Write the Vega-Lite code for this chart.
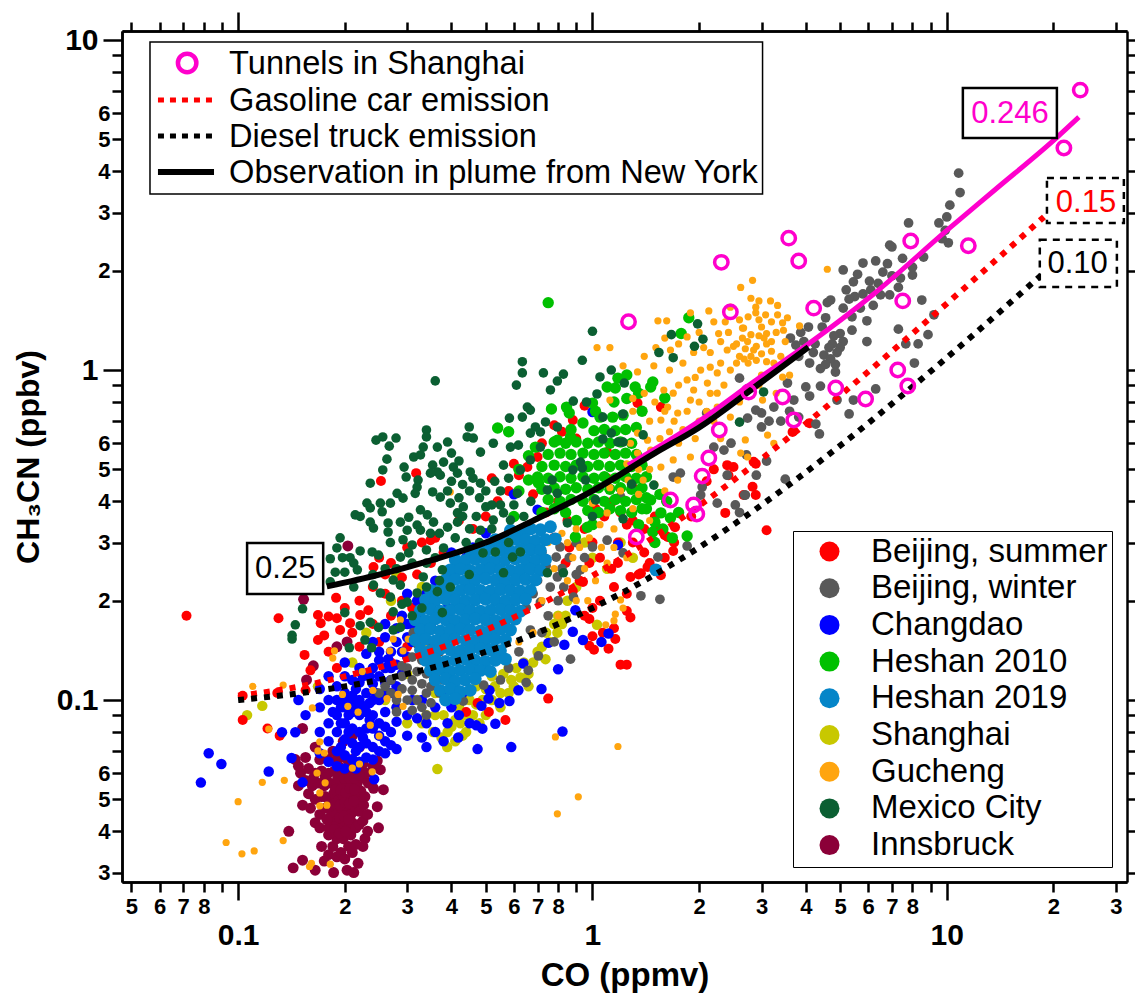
{"$schema":"https://vega.github.io/schema/vega-lite/v6.json","width":1005,"height":851,"autosize":{"type":"none"},"padding":{"left":122,"top":31,"right":8,"bottom":111},"background":"white",
"config":{"view":{"stroke":null},"font":"Liberation Sans","axis":{"grid":false,"domainColor":"black","domainWidth":2.5,"tickColor":"black","tickWidth":2.5,"labelColor":"black","titleColor":"black","labelOverlap":false,"labelBound":false,"labelFlush":false,"labelFontWeight":"bold","titleFontWeight":"bold"}},
"datasets":{
"frame":[{"x":1,"y":1}],
"innsbruck":[{"x":0.143,"y":0.031},{"x":0.152,"y":0.0327},{"x":0.165,"y":0.0305},{"x":0.186,"y":0.03},{"x":0.203,"y":0.0305},{"x":0.212,"y":0.03},{"x":0.218,"y":0.032},{"x":0.139,"y":0.04},{"x":0.249,"y":0.041},{"x":0.247,"y":0.0475},{"x":0.257,"y":0.0535},{"x":0.241,"y":0.054},{"x":0.252,"y":0.0615},{"x":0.247,"y":0.0655},{"x":0.19,"y":0.145},{"x":0.163,"y":0.127},{"x":0.156,"y":0.115},{"x":0.152,"y":0.082},{"x":0.145,"y":0.066},{"x":0.203,"y":0.15},{"x":0.204,"y":0.293},{"x":0.153,"y":0.202},{"x":0.175,"y":0.0325},{"x":0.18,"y":0.034},{"x":0.172,"y":0.036},{"x":0.185,"y":0.036},{"x":0.19,"y":0.0335},{"x":0.195,"y":0.0345},{"x":0.2,"y":0.033},{"x":0.205,"y":0.036},{"x":0.21,"y":0.0345},{"x":0.215,"y":0.0365},{"x":0.19,"y":0.038},{"x":0.198,"y":0.038},{"x":0.18,"y":0.039},{"x":0.208,"y":0.039},{"x":0.225,"y":0.036},{"x":0.228,"y":0.038},{"x":0.232,"y":0.04},{"x":0.165,"y":0.0425},{"x":0.17,"y":0.041},{"x":0.18,"y":0.041},{"x":0.185,"y":0.043},{"x":0.19,"y":0.042},{"x":0.196,"y":0.041},{"x":0.2,"y":0.043},{"x":0.205,"y":0.041},{"x":0.21,"y":0.0425},{"x":0.215,"y":0.041},{"x":0.22,"y":0.042},{"x":0.225,"y":0.043},{"x":0.17,"y":0.045},{"x":0.176,"y":0.047},{"x":0.183,"y":0.046},{"x":0.19,"y":0.046},{"x":0.196,"y":0.045},{"x":0.202,"y":0.047},{"x":0.208,"y":0.045},{"x":0.214,"y":0.047},{"x":0.22,"y":0.046},{"x":0.226,"y":0.048},{"x":0.232,"y":0.045},{"x":0.16,"y":0.047},{"x":0.152,"y":0.048},{"x":0.158,"y":0.052},{"x":0.165,"y":0.05},{"x":0.172,"y":0.051},{"x":0.18,"y":0.05},{"x":0.186,"y":0.052},{"x":0.192,"y":0.05},{"x":0.198,"y":0.051},{"x":0.204,"y":0.05},{"x":0.21,"y":0.052},{"x":0.216,"y":0.05},{"x":0.222,"y":0.053},{"x":0.228,"y":0.051},{"x":0.233,"y":0.056},{"x":0.148,"y":0.055},{"x":0.155,"y":0.057},{"x":0.162,"y":0.055},{"x":0.168,"y":0.056},{"x":0.175,"y":0.055},{"x":0.182,"y":0.056},{"x":0.19,"y":0.055},{"x":0.196,"y":0.056},{"x":0.203,"y":0.055},{"x":0.21,"y":0.056},{"x":0.217,"y":0.056},{"x":0.224,"y":0.058},{"x":0.23,"y":0.06},{"x":0.15,"y":0.06},{"x":0.158,"y":0.062},{"x":0.165,"y":0.06},{"x":0.172,"y":0.061},{"x":0.18,"y":0.06},{"x":0.187,"y":0.061},{"x":0.195,"y":0.06},{"x":0.202,"y":0.062},{"x":0.21,"y":0.06},{"x":0.218,"y":0.062},{"x":0.225,"y":0.064},{"x":0.17,"y":0.066},{"x":0.18,"y":0.066},{"x":0.19,"y":0.066},{"x":0.2,"y":0.067},{"x":0.21,"y":0.066},{"x":0.148,"y":0.063},{"x":0.155,"y":0.067},{"x":0.24,"y":0.063},{"x":0.185,"y":0.07},{"x":0.198,"y":0.075},{"x":0.21,"y":0.078},{"x":0.22,"y":0.072},{"x":0.165,"y":0.072},{"x":0.187,"y":0.0405},{"x":0.193,"y":0.0395},{"x":0.201,"y":0.04},{"x":0.187,"y":0.0445},{"x":0.193,"y":0.044},{"x":0.199,"y":0.0445},{"x":0.205,"y":0.0435},{"x":0.187,"y":0.0485},{"x":0.194,"y":0.048},{"x":0.2,"y":0.049},{"x":0.206,"y":0.0485},{"x":0.212,"y":0.0495},{"x":0.188,"y":0.0535},{"x":0.195,"y":0.0535},{"x":0.201,"y":0.0525},{"x":0.207,"y":0.054},{"x":0.213,"y":0.0535},{"x":0.191,"y":0.058},{"x":0.199,"y":0.058},{"x":0.206,"y":0.058},{"x":0.213,"y":0.058},{"x":0.22,"y":0.059},{"x":0.192,"y":0.063},{"x":0.205,"y":0.065},{"x":0.176,"y":0.051},{"x":0.178,"y":0.0435},{"x":0.176,"y":0.058},{"x":0.163,"y":0.058}],
"shanghai":[{"x":0.365,"y":0.0618},{"x":0.389,"y":0.072},{"x":0.375,"y":0.077},{"x":0.355,"y":0.08},{"x":0.41,"y":0.075},{"x":0.424,"y":0.085},{"x":0.4,"y":0.083},{"x":0.44,"y":0.08},{"x":0.46,"y":0.09},{"x":0.48,"y":0.085},{"x":0.38,"y":0.09},{"x":0.42,"y":0.095},{"x":0.45,"y":0.1},{"x":0.5,"y":0.09},{"x":0.52,"y":0.1},{"x":0.55,"y":0.095},{"x":0.5,"y":0.108},{"x":0.58,"y":0.105},{"x":0.626,"y":0.117},{"x":0.6,"y":0.11},{"x":0.66,"y":0.12},{"x":0.56,"y":0.12},{"x":0.68,"y":0.13},{"x":0.737,"y":0.133},{"x":0.7,"y":0.14},{"x":0.796,"y":0.16},{"x":0.76,"y":0.15},{"x":0.82,"y":0.17},{"x":0.78,"y":0.17},{"x":0.34,"y":0.09},{"x":0.32,"y":0.1},{"x":0.36,"y":0.105},{"x":0.3,"y":0.12},{"x":0.28,"y":0.095},{"x":0.26,"y":0.1},{"x":0.3,"y":0.085},{"x":0.117,"y":0.096},{"x":0.106,"y":0.09},{"x":0.168,"y":0.11},{"x":1.03,"y":0.169},{"x":0.9,"y":0.22},{"x":1.1,"y":0.25},{"x":1.2,"y":0.3},{"x":1.0,"y":0.27},{"x":1.3,"y":0.27},{"x":0.95,"y":0.3},{"x":0.85,"y":0.2},{"x":0.23,"y":0.16},{"x":0.27,"y":0.2},{"x":0.21,"y":0.13},{"x":0.28,"y":0.24},{"x":0.33,"y":0.22},{"x":0.39,"y":0.08},{"x":0.43,"y":0.078},{"x":0.41,"y":0.087},{"x":0.44,"y":0.09},{"x":0.47,"y":0.097},{"x":0.49,"y":0.1},{"x":0.53,"y":0.11},{"x":0.55,"y":0.105},{"x":0.59,"y":0.115},{"x":0.61,"y":0.125},{"x":0.64,"y":0.13},{"x":0.66,"y":0.11},{"x":0.72,"y":0.145},{"x":0.74,"y":0.16},{"x":0.8,"y":0.18},{"x":0.84,"y":0.18},{"x":0.47,"y":0.11},{"x":0.52,"y":0.118},{"x":0.58,"y":0.125},{"x":0.33,"y":0.085},{"x":0.36,"y":0.09}],
"red":[{"x":0.0715,"y":0.18},{"x":0.253,"y":0.461},{"x":0.318,"y":0.487},{"x":0.189,"y":0.204},{"x":0.13,"y":0.177},{"x":0.241,"y":0.253},{"x":0.168,"y":0.181},{"x":0.171,"y":0.171},{"x":0.18,"y":0.179},{"x":0.19,"y":0.177},{"x":0.221,"y":0.181},{"x":0.233,"y":0.187},{"x":0.168,"y":0.152},{"x":0.175,"y":0.157},{"x":0.154,"y":0.137},{"x":0.16,"y":0.123},{"x":0.103,"y":0.103},{"x":0.103,"y":0.087},{"x":0.121,"y":0.082},{"x":0.131,"y":0.078},{"x":0.129,"y":0.105},{"x":0.155,"y":0.107},{"x":0.194,"y":0.163},{"x":0.207,"y":0.171},{"x":1.2,"y":0.128},{"x":1.25,"y":0.128},{"x":1.11,"y":0.143},{"x":1.01,"y":0.142},{"x":0.98,"y":0.146},{"x":1.0,"y":0.156},{"x":1.15,"y":0.165},{"x":1.16,"y":0.153},{"x":1.07,"y":0.16},{"x":0.98,"y":0.176},{"x":1.28,"y":0.178},{"x":1.25,"y":0.186},{"x":0.75,"y":0.101},{"x":0.568,"y":0.087},{"x":0.51,"y":0.092},{"x":0.44,"y":0.092},{"x":0.474,"y":0.098},{"x":1.69,"y":0.283},{"x":1.6,"y":0.316},{"x":1.71,"y":0.334},{"x":1.28,"y":0.236},{"x":1.37,"y":0.242},{"x":1.43,"y":0.253},{"x":1.56,"y":0.239},{"x":1.18,"y":0.26},{"x":0.94,"y":0.228},{"x":0.88,"y":0.214},{"x":2.89,"y":0.52},{"x":2.83,"y":0.443},{"x":2.89,"y":0.418},{"x":3.67,"y":0.649},{"x":4.1,"y":0.69},{"x":3.1,"y":0.327},{"x":2.37,"y":0.369},{"x":2.67,"y":0.418},{"x":2.4,"y":0.515},{"x":2.5,"y":0.508},{"x":2.85,"y":0.527},{"x":2.42,"y":0.48},{"x":1.63,"y":0.312},{"x":0.88,"y":0.705},{"x":1.34,"y":0.794},{"x":1.56,"y":0.772},{"x":1.1,"y":0.564},{"x":0.655,"y":0.508},{"x":0.7,"y":0.545},{"x":0.349,"y":0.305},{"x":0.25,"y":0.27},{"x":0.27,"y":0.26},{"x":0.3,"y":0.29},{"x":0.33,"y":0.3},{"x":0.36,"y":0.31},{"x":0.22,"y":0.2},{"x":0.24,"y":0.22},{"x":0.26,"y":0.21},{"x":0.29,"y":0.2},{"x":0.32,"y":0.24},{"x":0.35,"y":0.26},{"x":0.38,"y":0.28},{"x":0.24,"y":0.17},{"x":0.27,"y":0.18},{"x":0.3,"y":0.17},{"x":0.31,"y":0.19},{"x":0.42,"y":0.35},{"x":0.46,"y":0.33},{"x":0.5,"y":0.36},{"x":0.54,"y":0.4},{"x":0.58,"y":0.43},{"x":0.52,"y":0.47},{"x":0.62,"y":0.48},{"x":0.68,"y":0.42},{"x":0.74,"y":0.37},{"x":0.8,"y":0.4},{"x":0.85,"y":0.35},{"x":0.78,"y":0.31},{"x":0.86,"y":0.29},{"x":0.95,"y":0.33},{"x":1.02,"y":0.38},{"x":1.08,"y":0.36},{"x":1.14,"y":0.4},{"x":1.2,"y":0.37},{"x":1.25,"y":0.34},{"x":1.3,"y":0.44},{"x":1.1,"y":0.47},{"x":1.0,"y":0.3},{"x":1.05,"y":0.27},{"x":0.98,"y":0.26},{"x":1.13,"y":0.25},{"x":1.18,"y":0.3},{"x":0.92,"y":0.23},{"x":0.84,"y":0.26},{"x":0.82,"y":0.65},{"x":0.9,"y":0.62},{"x":0.95,"y":0.78},{"x":1.3,"y":0.3},{"x":1.4,"y":0.28},{"x":1.5,"y":0.3},{"x":1.6,"y":0.27},{"x":1.55,"y":0.33},{"x":1.7,"y":0.3},{"x":1.45,"y":0.26},{"x":1.35,"y":0.24},{"x":1.25,"y":0.21},{"x":1.15,"y":0.22},{"x":1.05,"y":0.2},{"x":1.0,"y":0.19},{"x":0.95,"y":0.18},{"x":1.4,"y":0.33},{"x":1.3,"y":0.35},{"x":1.5,"y":0.36},{"x":1.9,"y":0.36},{"x":2.1,"y":0.46},{"x":2.2,"y":0.5},{"x":0.2,"y":0.19},{"x":0.21,"y":0.16},{"x":0.25,"y":0.15},{"x":0.22,"y":0.145},{"x":0.19,"y":0.125},{"x":0.18,"y":0.14},{"x":0.27,"y":0.13},{"x":0.3,"y":0.145},{"x":0.33,"y":0.155},{"x":0.35,"y":0.14},{"x":0.26,"y":0.24},{"x":0.29,"y":0.235},{"x":0.6,"y":0.52},{"x":0.72,"y":0.6},{"x":0.78,"y":0.68}],
"blue":[{"x":0.0826,"y":0.069},{"x":0.0897,"y":0.064},{"x":0.0785,"y":0.0562},{"x":0.122,"y":0.0607},{"x":0.133,"y":0.0799},{"x":0.145,"y":0.0799},{"x":0.1415,"y":0.0667},{"x":0.152,"y":0.0563},{"x":0.242,"y":0.0575},{"x":0.148,"y":0.1},{"x":0.155,"y":0.09},{"x":0.59,"y":0.072},{"x":0.474,"y":0.071},{"x":0.418,"y":0.077},{"x":0.823,"y":0.0803},{"x":0.532,"y":0.0847},{"x":0.489,"y":0.0819},{"x":0.47,"y":0.0838},{"x":0.718,"y":0.108},{"x":0.618,"y":0.107},{"x":0.583,"y":0.0993},{"x":0.546,"y":0.098},{"x":0.509,"y":0.101},{"x":0.486,"y":0.096},{"x":0.512,"y":0.107},{"x":0.8,"y":0.124},{"x":0.638,"y":0.129},{"x":0.833,"y":0.147},{"x":0.751,"y":0.149},{"x":0.88,"y":0.161},{"x":0.94,"y":0.152},{"x":1.06,"y":0.15},{"x":1.11,"y":0.159},{"x":0.895,"y":0.187},{"x":1.18,"y":0.295},{"x":0.18,"y":0.075},{"x":0.19,"y":0.07},{"x":0.2,"y":0.068},{"x":0.21,"y":0.066},{"x":0.22,"y":0.065},{"x":0.23,"y":0.067},{"x":0.24,"y":0.066},{"x":0.18,"y":0.065},{"x":0.19,"y":0.063},{"x":0.2,"y":0.062},{"x":0.215,"y":0.062},{"x":0.17,"y":0.069},{"x":0.17,"y":0.08},{"x":0.18,"y":0.085},{"x":0.19,"y":0.08},{"x":0.2,"y":0.076},{"x":0.21,"y":0.074},{"x":0.22,"y":0.072},{"x":0.23,"y":0.074},{"x":0.24,"y":0.072},{"x":0.25,"y":0.07},{"x":0.26,"y":0.069},{"x":0.26,"y":0.075},{"x":0.27,"y":0.073},{"x":0.28,"y":0.071},{"x":0.25,"y":0.078},{"x":0.19,"y":0.09},{"x":0.2,"y":0.085},{"x":0.21,"y":0.082},{"x":0.22,"y":0.08},{"x":0.23,"y":0.082},{"x":0.24,"y":0.082},{"x":0.25,"y":0.085},{"x":0.26,"y":0.083},{"x":0.27,"y":0.08},{"x":0.28,"y":0.086},{"x":0.17,"y":0.095},{"x":0.18,"y":0.1},{"x":0.19,"y":0.1},{"x":0.2,"y":0.095},{"x":0.21,"y":0.092},{"x":0.22,"y":0.09},{"x":0.23,"y":0.092},{"x":0.24,"y":0.09},{"x":0.26,"y":0.092},{"x":0.28,"y":0.095},{"x":0.17,"y":0.108},{"x":0.19,"y":0.11},{"x":0.2,"y":0.105},{"x":0.21,"y":0.103},{"x":0.22,"y":0.1},{"x":0.23,"y":0.105},{"x":0.24,"y":0.1},{"x":0.25,"y":0.1},{"x":0.27,"y":0.105},{"x":0.18,"y":0.118},{"x":0.2,"y":0.118},{"x":0.21,"y":0.115},{"x":0.22,"y":0.113},{"x":0.24,"y":0.112},{"x":0.25,"y":0.118},{"x":0.27,"y":0.115},{"x":0.22,"y":0.125},{"x":0.24,"y":0.125},{"x":0.26,"y":0.125},{"x":0.28,"y":0.128},{"x":0.2,"y":0.13},{"x":0.23,"y":0.138},{"x":0.25,"y":0.14},{"x":0.27,"y":0.14},{"x":0.29,"y":0.14},{"x":0.24,"y":0.15},{"x":0.26,"y":0.155},{"x":0.28,"y":0.15},{"x":0.3,"y":0.155},{"x":0.3,"y":0.17},{"x":0.32,"y":0.18},{"x":0.33,"y":0.19},{"x":0.35,"y":0.2},{"x":0.38,"y":0.22},{"x":0.35,"y":0.17},{"x":0.39,"y":0.19},{"x":0.41,"y":0.25},{"x":0.44,"y":0.27},{"x":0.46,"y":0.29},{"x":0.4,"y":0.28},{"x":0.5,"y":0.32},{"x":0.3,"y":0.09},{"x":0.32,"y":0.088},{"x":0.34,"y":0.085},{"x":0.36,"y":0.08},{"x":0.38,"y":0.075},{"x":0.31,"y":0.1},{"x":0.33,"y":0.1},{"x":0.36,"y":0.095},{"x":0.39,"y":0.085},{"x":0.4,"y":0.095},{"x":0.42,"y":0.09},{"x":0.45,"y":0.085},{"x":0.38,"y":0.105},{"x":0.43,"y":0.105},{"x":0.3,"y":0.078},{"x":0.33,"y":0.077},{"x":0.34,"y":0.072},{"x":1,"y":0.746},{"x":0.7,"y":0.377},{"x":0.6,"y":0.42},{"x":0.195,"y":0.072},{"x":0.205,"y":0.08},{"x":0.195,"y":0.085},{"x":0.205,"y":0.09},{"x":0.215,"y":0.097},{"x":0.205,"y":0.099},{"x":0.195,"y":0.095},{"x":0.185,"y":0.092},{"x":0.215,"y":0.07},{"x":0.225,"y":0.077},{"x":0.235,"y":0.087},{"x":0.225,"y":0.096},{"x":0.235,"y":0.098},{"x":0.215,"y":0.108},{"x":0.225,"y":0.118},{"x":0.235,"y":0.118},{"x":0.245,"y":0.105},{"x":0.26,"y":0.105},{"x":0.26,"y":0.113},{"x":0.28,"y":0.11},{"x":0.29,"y":0.12},{"x":0.27,"y":0.125},{"x":0.25,"y":0.132},{"x":0.265,"y":0.133},{"x":0.3,"y":0.135},{"x":0.31,"y":0.15},{"x":0.28,"y":0.165},{"x":0.26,"y":0.17},{"x":0.29,"y":0.18},{"x":0.31,"y":0.17},{"x":0.32,"y":0.2},{"x":0.34,"y":0.21},{"x":0.36,"y":0.23},{"x":0.3,"y":0.21},{"x":0.33,"y":0.165},{"x":0.2,"y":0.1}],
"grey":[{"x":10.2,"y":3.16},{"x":10,"y":2.91},{"x":10.8,"y":3.95},{"x":10.9,"y":3.45},{"x":9.5,"y":2.79},{"x":9.9,"y":2.65},{"x":10.1,"y":2.43},{"x":7.8,"y":2.79},{"x":7,"y":2.36},{"x":6.9,"y":2.39},{"x":7.5,"y":2.18},{"x":8.6,"y":2.2},{"x":6.3,"y":2.14},{"x":5.8,"y":2.11},{"x":5.1,"y":2.01},{"x":6.6,"y":1.98},{"x":6.05,"y":1.86},{"x":5.45,"y":1.85},{"x":6.4,"y":1.83},{"x":7,"y":1.93},{"x":7.4,"y":1.9},{"x":8,"y":1.94},{"x":7.3,"y":1.78},{"x":6.9,"y":1.69},{"x":6.5,"y":1.69},{"x":8.5,"y":1.63},{"x":5.5,"y":1.67},{"x":5.3,"y":1.64},{"x":4.7,"y":1.63},{"x":4.6,"y":1.6},{"x":6.2,"y":1.57},{"x":5.7,"y":1.54},{"x":5.1,"y":1.54},{"x":5.4,"y":1.45},{"x":4.55,"y":1.44},{"x":5.95,"y":1.41},{"x":4.45,"y":1.35},{"x":4.07,"y":1.35},{"x":3.87,"y":1.3},{"x":5.4,"y":1.32},{"x":5,"y":1.29},{"x":7.3,"y":1.33},{"x":8.85,"y":1.28},{"x":7.66,"y":1.2},{"x":8.3,"y":1.2},{"x":5.95,"y":1.22},{"x":5.1,"y":1.22},{"x":3.62,"y":1.25},{"x":3.75,"y":1.19},{"x":5,"y":1.17},{"x":4.9,"y":1.13},{"x":4.5,"y":1.11},{"x":4.2,"y":1.13},{"x":3.82,"y":1.1},{"x":4.1,"y":1.05},{"x":4.85,"y":1.04},{"x":4.4,"y":1.01},{"x":8.1,"y":1.05},{"x":4.85,"y":0.986},{"x":3.55,"y":0.913},{"x":4,"y":0.889},{"x":4.4,"y":0.894},{"x":4.1,"y":0.834},{"x":6.3,"y":0.876},{"x":5.45,"y":0.811},{"x":4.9,"y":0.811},{"x":5.3,"y":0.736},{"x":3.7,"y":0.811},{"x":3.25,"y":0.772},{"x":3,"y":0.741},{"x":2.89,"y":0.756},{"x":2.74,"y":0.715},{"x":3,"y":0.672},{"x":4.27,"y":0.686},{"x":4.37,"y":0.64},{"x":3.82,"y":0.72},{"x":3.5,"y":0.467},{"x":2.7,"y":0.418},{"x":9.2,"y":1.47},{"x":2.6,"y":0.945},{"x":2.2,"y":0.584},{"x":2.35,"y":0.572},{"x":2.46,"y":0.6},{"x":2.72,"y":0.553},{"x":2.04,"y":0.442},{"x":2.02,"y":0.418},{"x":2.25,"y":0.395},{"x":2.69,"y":0.418},{"x":2.53,"y":0.39},{"x":2.6,"y":0.37},{"x":2.1,"y":0.741},{"x":1.77,"y":0.487},{"x":1.69,"y":0.474},{"x":1.2,"y":0.413},{"x":1.1,"y":0.305},{"x":0.9,"y":0.3},{"x":0.81,"y":0.291},{"x":0.79,"y":0.271},{"x":0.925,"y":0.248},{"x":1,"y":0.291},{"x":1.22,"y":0.279},{"x":1.53,"y":0.271},{"x":1.85,"y":0.293},{"x":1.37,"y":0.207},{"x":1.55,"y":0.202},{"x":0.867,"y":0.133},{"x":0.704,"y":0.136},{"x":0.659,"y":0.123},{"x":0.65,"y":0.113},{"x":0.493,"y":0.111},{"x":0.432,"y":0.0992},{"x":0.796,"y":0.236},{"x":0.884,"y":0.205},{"x":0.713,"y":0.198},{"x":0.668,"y":0.163},{"x":0.8,"y":0.2},{"x":0.76,"y":0.22},{"x":0.75,"y":0.18},{"x":0.82,"y":0.25},{"x":0.86,"y":0.27},{"x":0.74,"y":0.255},{"x":0.7,"y":0.23},{"x":0.72,"y":0.28},{"x":0.78,"y":0.31},{"x":0.312,"y":0.16},{"x":0.372,"y":0.148},{"x":0.25,"y":0.105},{"x":0.26,"y":0.11},{"x":0.27,"y":0.105},{"x":0.28,"y":0.1},{"x":0.29,"y":0.108},{"x":0.3,"y":0.1},{"x":0.31,"y":0.107},{"x":0.32,"y":0.1},{"x":0.33,"y":0.095},{"x":0.34,"y":0.105},{"x":0.35,"y":0.098},{"x":0.27,"y":0.115},{"x":0.29,"y":0.118},{"x":0.31,"y":0.115},{"x":0.33,"y":0.112},{"x":0.35,"y":0.11},{"x":0.37,"y":0.105},{"x":0.3,"y":0.125},{"x":0.32,"y":0.122},{"x":0.34,"y":0.12},{"x":0.36,"y":0.118},{"x":0.38,"y":0.115},{"x":0.31,"y":0.135},{"x":0.33,"y":0.132},{"x":0.35,"y":0.13},{"x":0.37,"y":0.14},{"x":0.32,"y":0.148},{"x":0.345,"y":0.145},{"x":0.28,"y":0.092},{"x":0.31,"y":0.093},{"x":0.34,"y":0.09},{"x":0.29,"y":0.127},{"x":0.83,"y":0.22},{"x":0.9,"y":0.24},{"x":0.95,"y":0.27},{"x":0.68,"y":0.21},{"x":0.65,"y":0.19},{"x":0.72,"y":0.16},{"x":0.78,"y":0.15},{"x":0.62,"y":0.14},{"x":0.58,"y":0.125},{"x":0.55,"y":0.115},{"x":4.75,"y":1.2},{"x":4.8,"y":1.27},{"x":4.65,"y":1.17},{"x":4.7,"y":1.08},{"x":4.55,"y":1.04},{"x":3.95,"y":1.22},{"x":4.25,"y":1.2},{"x":3.4,"y":0.7},{"x":3.6,"y":0.75},{"x":3.15,"y":0.7},{"x":5.8,"y":1.7},{"x":6.1,"y":1.75},{"x":5.2,"y":1.75},{"x":5.6,"y":1.95},{"x":6.8,"y":2.1},{"x":8,"y":2.05},{"x":9.7,"y":2.5},{"x":2.4,"y":0.48},{"x":2.9,"y":0.48},{"x":3.1,"y":0.53}],
"green":[{"x":0.75,"y":1.6},{"x":1.78,"y":1.29},{"x":1.87,"y":1.44},{"x":0.54,"y":0.667},{"x":0.58,"y":0.65},{"x":0.766,"y":0.762},{"x":0.845,"y":0.772},{"x":0.86,"y":0.741},{"x":1.1,"y":0.888},{"x":1.16,"y":0.882},{"x":1.25,"y":0.966},{"x":1.18,"y":0.945},{"x":1.32,"y":0.888},{"x":1.48,"y":0.92},{"x":1.46,"y":0.888},{"x":1.6,"y":0.823},{"x":1,"y":0.794},{"x":0.94,"y":0.691},{"x":0.867,"y":0.627},{"x":0.796,"y":0.613},{"x":0.69,"y":0.584},{"x":0.66,"y":0.464},{"x":0.7,"y":0.474},{"x":0.704,"y":0.455},{"x":0.895,"y":0.312},{"x":0.968,"y":0.334},{"x":1.46,"y":0.404},{"x":1.56,"y":0.369},{"x":1.66,"y":0.356},{"x":1.85,"y":0.314},{"x":1.5,"y":0.346},{"x":1.48,"y":0.323},{"x":0.72,"y":0.37},{"x":0.78,"y":0.38},{"x":0.84,"y":0.37},{"x":0.97,"y":0.375},{"x":1.04,"y":0.37},{"x":1.12,"y":0.38},{"x":1.2,"y":0.375},{"x":1.29,"y":0.37},{"x":1.38,"y":0.38},{"x":0.75,"y":0.405},{"x":0.81,"y":0.4},{"x":0.87,"y":0.405},{"x":0.94,"y":0.4},{"x":1.01,"y":0.405},{"x":1.08,"y":0.4},{"x":1.16,"y":0.405},{"x":1.24,"y":0.4},{"x":1.33,"y":0.405},{"x":1.42,"y":0.41},{"x":0.72,"y":0.435},{"x":0.78,"y":0.44},{"x":0.84,"y":0.435},{"x":0.9,"y":0.44},{"x":0.97,"y":0.435},{"x":1.04,"y":0.44},{"x":1.12,"y":0.435},{"x":1.2,"y":0.44},{"x":1.29,"y":0.435},{"x":1.38,"y":0.44},{"x":0.75,"y":0.47},{"x":0.81,"y":0.475},{"x":0.87,"y":0.47},{"x":0.94,"y":0.475},{"x":1.01,"y":0.47},{"x":1.08,"y":0.475},{"x":1.16,"y":0.47},{"x":1.24,"y":0.475},{"x":1.33,"y":0.47},{"x":1.42,"y":0.475},{"x":0.72,"y":0.51},{"x":0.78,"y":0.515},{"x":0.84,"y":0.51},{"x":0.9,"y":0.515},{"x":0.97,"y":0.51},{"x":1.04,"y":0.515},{"x":1.12,"y":0.51},{"x":1.2,"y":0.515},{"x":1.29,"y":0.51},{"x":1.38,"y":0.515},{"x":0.75,"y":0.555},{"x":0.81,"y":0.56},{"x":0.87,"y":0.555},{"x":0.94,"y":0.56},{"x":1.01,"y":0.555},{"x":1.08,"y":0.56},{"x":1.16,"y":0.555},{"x":1.24,"y":0.56},{"x":1.33,"y":0.555},{"x":0.78,"y":0.605},{"x":0.84,"y":0.6},{"x":0.9,"y":0.605},{"x":0.97,"y":0.6},{"x":1.04,"y":0.605},{"x":1.12,"y":0.6},{"x":1.2,"y":0.605},{"x":1.29,"y":0.6},{"x":0.87,"y":0.66},{"x":1.01,"y":0.655},{"x":1.08,"y":0.66},{"x":1.16,"y":0.655},{"x":1.24,"y":0.66},{"x":1.33,"y":0.67},{"x":1.05,"y":0.72},{"x":1.14,"y":0.72},{"x":1.22,"y":0.73},{"x":1.38,"y":0.75},{"x":1.02,"y":0.75},{"x":1.15,"y":0.8},{"x":1.25,"y":0.82},{"x":1.35,"y":0.85},{"x":0.9,"y":0.35},{"x":1,"y":0.34},{"x":1.42,"y":0.38},{"x":1.55,"y":0.42},{"x":1.62,"y":0.4},{"x":1.5,"y":0.3},{"x":1.35,"y":0.34},{"x":1.75,"y":0.37},{"x":1.68,"y":0.31},{"x":0.62,"y":0.43},{"x":0.6,"y":0.36},{"x":0.62,"y":0.5},{"x":0.66,"y":0.55},{"x":1.58,"y":0.33}],
"orange":[{"x":0.1,"y":0.0492},{"x":0.0925,"y":0.037},{"x":0.1025,"y":0.0342},{"x":0.111,"y":0.0349},{"x":0.134,"y":0.0375},{"x":0.117,"y":0.0563},{"x":0.135,"y":0.0571},{"x":0.11,"y":0.11},{"x":0.134,"y":0.111},{"x":0.122,"y":0.0817},{"x":0.162,"y":0.0946},{"x":0.185,"y":0.134},{"x":0.187,"y":0.141},{"x":0.17,"y":0.0523},{"x":0.178,"y":0.048},{"x":0.17,"y":0.0478},{"x":0.182,"y":0.0318},{"x":0.161,"y":0.032},{"x":0.159,"y":0.0313},{"x":0.167,"y":0.0601},{"x":0.176,"y":0.0561},{"x":0.21,"y":0.0622},{"x":0.22,"y":0.064},{"x":0.239,"y":0.0606},{"x":0.17,"y":0.0747},{"x":0.168,"y":0.0701},{"x":0.175,"y":0.0691},{"x":0.236,"y":0.0839},{"x":0.25,"y":0.0778},{"x":0.218,"y":0.0919},{"x":0.204,"y":0.0957},{"x":0.197,"y":0.104},{"x":0.24,"y":0.107},{"x":0.224,"y":0.122},{"x":0.268,"y":0.141},{"x":0.292,"y":0.141},{"x":0.274,"y":0.153},{"x":0.287,"y":0.175},{"x":0.302,"y":0.153},{"x":0.335,"y":0.147},{"x":0.263,"y":0.101},{"x":0.283,"y":0.104},{"x":0.292,"y":0.0957},{"x":1.18,"y":0.0723},{"x":0.786,"y":0.0773},{"x":0.912,"y":0.0509},{"x":0.796,"y":0.0452},{"x":1.2,"y":0.201},{"x":1.22,"y":0.19},{"x":1.16,"y":0.182},{"x":1.15,"y":0.174},{"x":1.09,"y":0.169},{"x":0.397,"y":0.427},{"x":1.03,"y":1.17},{"x":1.12,"y":1.17},{"x":1.53,"y":1.41},{"x":1.62,"y":1.41},{"x":2.13,"y":1.51},{"x":1.89,"y":1.49},{"x":2.62,"y":1.78},{"x":2.83,"y":1.87},{"x":2.8,"y":1.65},{"x":2.37,"y":1.4},{"x":2.27,"y":1.29},{"x":1.22,"y":1.03},{"x":1.34,"y":0.987},{"x":1.49,"y":1.03},{"x":1.51,"y":1.17},{"x":1.66,"y":1.15},{"x":1.85,"y":1.26},{"x":1.93,"y":1.13},{"x":2.06,"y":1.17},{"x":2.15,"y":1.13},{"x":2.42,"y":1.3},{"x":2.65,"y":1.34},{"x":2.74,"y":1.22},{"x":2.89,"y":1.49},{"x":4.6,"y":2.02},{"x":2.95,"y":1.62},{"x":3.18,"y":1.62},{"x":3.33,"y":1.57},{"x":2.89,"y":1.55},{"x":3.08,"y":1.47},{"x":3.33,"y":1.47},{"x":3.55,"y":1.44},{"x":3.44,"y":1.39},{"x":2.67,"y":1.34},{"x":3,"y":1.35},{"x":3.46,"y":1.32},{"x":3.84,"y":1.36},{"x":3.5,"y":1.22},{"x":3.4,"y":1.1},{"x":3.25,"y":1.05},{"x":3,"y":0.965},{"x":3.44,"y":0.952},{"x":3.6,"y":0.965},{"x":3.02,"y":0.811},{"x":3.12,"y":0.635},{"x":3.25,"y":0.6},{"x":2.7,"y":0.614},{"x":2.62,"y":0.56},{"x":2.74,"y":0.545},{"x":2.6,"y":1.1},{"x":2.7,"y":1.16},{"x":2.8,"y":1.1},{"x":2.9,"y":1.18},{"x":3,"y":1.12},{"x":3.1,"y":1.2},{"x":3.2,"y":1.14},{"x":2.65,"y":1.25},{"x":2.8,"y":1.28},{"x":2.95,"y":1.27},{"x":3.1,"y":1.29},{"x":2.75,"y":1.05},{"x":2.9,"y":1.07},{"x":3.1,"y":1.06},{"x":2.5,"y":1.18},{"x":2.55,"y":1.05},{"x":1.63,"y":0.772},{"x":1.74,"y":0.741},{"x":1.89,"y":0.811},{"x":2.11,"y":0.913},{"x":2.25,"y":0.851},{"x":1.93,"y":0.87},{"x":1.85,"y":0.933},{"x":2.02,"y":1},{"x":2.25,"y":0.98},{"x":1.69,"y":0.851},{"x":1.59,"y":0.87},{"x":2.25,"y":0.772},{"x":1.56,"y":0.705},{"x":1.43,"y":0.613},{"x":1.34,"y":0.644},{"x":1.46,"y":0.572},{"x":1.28,"y":0.6},{"x":1.34,"y":0.56},{"x":1.12,"y":0.811},{"x":1.12,"y":0.44},{"x":1.1,"y":0.369},{"x":1,"y":0.395},{"x":1.39,"y":0.464},{"x":1.56,"y":0.508},{"x":1.69,"y":0.534},{"x":1.89,"y":0.545},{"x":1.74,"y":0.464},{"x":1.26,"y":0.464},{"x":1.8,"y":0.66},{"x":2,"y":0.7},{"x":1.95,"y":0.62},{"x":0.75,"y":0.3},{"x":0.82,"y":0.32},{"x":0.88,"y":0.27},{"x":0.95,"y":0.25},{"x":1.02,"y":0.23},{"x":1.06,"y":0.29},{"x":0.9,"y":0.33},{"x":0.78,"y":0.25},{"x":0.72,"y":0.2},{"x":0.8,"y":0.18},{"x":0.68,"y":0.16},{"x":0.62,"y":0.15},{"x":0.97,"y":0.2},{"x":1.05,"y":0.34},{"x":1.15,"y":0.33},{"x":1.25,"y":0.27},{"x":1.3,"y":0.82},{"x":1.4,"y":0.85},{"x":1.5,"y":0.8},{"x":1.45,"y":0.7},{"x":1.6,"y":0.75},{"x":1.7,"y":0.7},{"x":1.55,"y":0.62},{"x":1.65,"y":0.65},{"x":1.75,"y":0.6},{"x":1.85,"y":0.75},{"x":2,"y":0.8},{"x":2.1,"y":0.75},{"x":2.2,"y":0.7},{"x":2.15,"y":0.85},{"x":2.35,"y":0.9},{"x":2.45,"y":1},{"x":2.3,"y":1.05},{"x":2.15,"y":1.02},{"x":1.95,"y":0.95},{"x":1.75,"y":0.9},{"x":1.65,"y":1},{"x":1.8,"y":1.05},{"x":1.4,"y":1.1},{"x":1.3,"y":0.75},{"x":1.25,"y":0.52},{"x":1.35,"y":0.5},{"x":1.45,"y":0.5},{"x":1.5,"y":0.45},{"x":1.6,"y":0.43},{"x":1.35,"y":0.42},{"x":1.45,"y":0.35},{"x":1.3,"y":0.38},{"x":1.2,"y":0.43},{"x":2.55,"y":1.2},{"x":2.68,"y":1.08},{"x":2.85,"y":1.15},{"x":3.05,"y":1.25},{"x":3.2,"y":1.22},{"x":3.3,"y":1.3},{"x":2.6,"y":1.42},{"x":2.75,"y":1.45},{"x":2.95,"y":1.42},{"x":3.2,"y":1.4},{"x":2.4,"y":1.15},{"x":2.3,"y":1.22},{"x":2.45,"y":1.55},{"x":2.2,"y":1.4},{"x":2,"y":1.3},{"x":1.75,"y":1.2},{"x":1.6,"y":1.25},{"x":3.3,"y":0.85},{"x":2.95,"y":0.9},{"x":2.6,"y":0.8},{"x":2.45,"y":0.72},{"x":2.3,"y":0.62},{"x":0.85,"y":0.3},{"x":0.92,"y":0.29},{"x":0.98,"y":0.31},{"x":0.85,"y":0.23},{"x":0.9,"y":0.2},{"x":1.1,"y":0.26},{"x":1.15,"y":0.29}],
"heshan19":[{"x":1.51,"y":0.248},{"x":0.587,"y":0.327},{"x":0.626,"y":0.325},{"x":0.668,"y":0.33},{"x":0.713,"y":0.328},{"x":0.761,"y":0.335},{"x":0.532,"y":0.306},{"x":0.568,"y":0.305},{"x":0.606,"y":0.307},{"x":0.647,"y":0.306},{"x":0.69,"y":0.304},{"x":0.737,"y":0.306},{"x":0.786,"y":0.308},{"x":0.452,"y":0.285},{"x":0.483,"y":0.284},{"x":0.515,"y":0.286},{"x":0.55,"y":0.285},{"x":0.587,"y":0.283},{"x":0.626,"y":0.286},{"x":0.668,"y":0.285},{"x":0.713,"y":0.284},{"x":0.41,"y":0.266},{"x":0.438,"y":0.265},{"x":0.467,"y":0.267},{"x":0.499,"y":0.266},{"x":0.532,"y":0.265},{"x":0.568,"y":0.266},{"x":0.606,"y":0.268},{"x":0.647,"y":0.266},{"x":0.69,"y":0.265},{"x":0.737,"y":0.266},{"x":0.397,"y":0.248},{"x":0.424,"y":0.249},{"x":0.452,"y":0.247},{"x":0.483,"y":0.248},{"x":0.515,"y":0.25},{"x":0.55,"y":0.248},{"x":0.587,"y":0.247},{"x":0.626,"y":0.248},{"x":0.668,"y":0.249},{"x":0.713,"y":0.247},{"x":0.385,"y":0.231},{"x":0.41,"y":0.232},{"x":0.438,"y":0.23},{"x":0.467,"y":0.231},{"x":0.499,"y":0.233},{"x":0.532,"y":0.231},{"x":0.568,"y":0.23},{"x":0.606,"y":0.231},{"x":0.647,"y":0.232},{"x":0.69,"y":0.231},{"x":0.349,"y":0.215},{"x":0.372,"y":0.216},{"x":0.397,"y":0.214},{"x":0.424,"y":0.215},{"x":0.452,"y":0.216},{"x":0.483,"y":0.215},{"x":0.515,"y":0.214},{"x":0.55,"y":0.216},{"x":0.587,"y":0.215},{"x":0.626,"y":0.214},{"x":0.668,"y":0.215},{"x":0.338,"y":0.201},{"x":0.36,"y":0.2},{"x":0.385,"y":0.202},{"x":0.41,"y":0.201},{"x":0.438,"y":0.2},{"x":0.467,"y":0.201},{"x":0.499,"y":0.202},{"x":0.532,"y":0.201},{"x":0.568,"y":0.2},{"x":0.606,"y":0.201},{"x":0.647,"y":0.202},{"x":0.327,"y":0.187},{"x":0.349,"y":0.188},{"x":0.372,"y":0.186},{"x":0.397,"y":0.187},{"x":0.424,"y":0.188},{"x":0.452,"y":0.187},{"x":0.483,"y":0.186},{"x":0.515,"y":0.187},{"x":0.55,"y":0.188},{"x":0.587,"y":0.187},{"x":0.626,"y":0.186},{"x":0.316,"y":0.175},{"x":0.338,"y":0.174},{"x":0.36,"y":0.176},{"x":0.385,"y":0.175},{"x":0.41,"y":0.174},{"x":0.438,"y":0.175},{"x":0.467,"y":0.176},{"x":0.499,"y":0.175},{"x":0.532,"y":0.174},{"x":0.568,"y":0.175},{"x":0.606,"y":0.176},{"x":0.327,"y":0.163},{"x":0.349,"y":0.164},{"x":0.372,"y":0.162},{"x":0.397,"y":0.163},{"x":0.424,"y":0.164},{"x":0.452,"y":0.163},{"x":0.483,"y":0.162},{"x":0.515,"y":0.163},{"x":0.55,"y":0.164},{"x":0.587,"y":0.163},{"x":0.316,"y":0.152},{"x":0.338,"y":0.153},{"x":0.36,"y":0.151},{"x":0.385,"y":0.152},{"x":0.41,"y":0.153},{"x":0.438,"y":0.152},{"x":0.467,"y":0.151},{"x":0.499,"y":0.152},{"x":0.532,"y":0.153},{"x":0.568,"y":0.152},{"x":0.327,"y":0.142},{"x":0.349,"y":0.141},{"x":0.372,"y":0.143},{"x":0.397,"y":0.142},{"x":0.424,"y":0.141},{"x":0.452,"y":0.142},{"x":0.483,"y":0.143},{"x":0.515,"y":0.142},{"x":0.55,"y":0.141},{"x":0.338,"y":0.132},{"x":0.36,"y":0.133},{"x":0.385,"y":0.131},{"x":0.41,"y":0.132},{"x":0.438,"y":0.133},{"x":0.467,"y":0.132},{"x":0.499,"y":0.131},{"x":0.532,"y":0.132},{"x":0.568,"y":0.133},{"x":0.349,"y":0.123},{"x":0.372,"y":0.124},{"x":0.397,"y":0.122},{"x":0.424,"y":0.123},{"x":0.452,"y":0.124},{"x":0.483,"y":0.123},{"x":0.515,"y":0.122},{"x":0.36,"y":0.115},{"x":0.385,"y":0.116},{"x":0.41,"y":0.114},{"x":0.438,"y":0.115},{"x":0.467,"y":0.116},{"x":0.372,"y":0.107},{"x":0.397,"y":0.108},{"x":0.424,"y":0.106},{"x":0.452,"y":0.107},{"x":0.385,"y":0.1},{"x":0.41,"y":0.101}],
"mexico":[{"x":0.36,"y":0.927},{"x":0.34,"y":0.658},{"x":0.34,"y":0.627},{"x":0.245,"y":0.613},{"x":0.256,"y":0.627},{"x":0.279,"y":0.622},{"x":0.267,"y":0.588},{"x":0.39,"y":0.605},{"x":0.365,"y":0.584},{"x":0.333,"y":0.584},{"x":0.263,"y":0.537},{"x":0.313,"y":0.545},{"x":0.327,"y":0.553},{"x":0.256,"y":0.498},{"x":0.236,"y":0.454},{"x":0.294,"y":0.508},{"x":0.298,"y":0.474},{"x":0.354,"y":0.515},{"x":0.38,"y":0.526},{"x":0.405,"y":0.508},{"x":0.365,"y":0.491},{"x":0.349,"y":0.487},{"x":0.372,"y":0.48},{"x":0.416,"y":0.487},{"x":0.322,"y":0.464},{"x":0.32,"y":0.442},{"x":0.316,"y":0.423},{"x":0.354,"y":0.427},{"x":0.281,"y":0.423},{"x":0.292,"y":0.409},{"x":0.372,"y":0.412},{"x":0.397,"y":0.395},{"x":0.231,"y":0.395},{"x":0.269,"y":0.395},{"x":0.252,"y":0.395},{"x":0.236,"y":0.382},{"x":0.255,"y":0.372},{"x":0.214,"y":0.364},{"x":0.221,"y":0.36},{"x":0.327,"y":0.377},{"x":0.342,"y":0.364},{"x":0.416,"y":0.369},{"x":0.236,"y":0.346},{"x":0.241,"y":0.332},{"x":0.265,"y":0.344},{"x":0.265,"y":0.323},{"x":0.287,"y":0.346},{"x":0.303,"y":0.358},{"x":0.32,"y":0.339},{"x":0.356,"y":0.346},{"x":0.39,"y":0.334},{"x":0.416,"y":0.346},{"x":0.3,"y":0.327},{"x":0.292,"y":0.306},{"x":0.327,"y":0.327},{"x":0.349,"y":0.32},{"x":0.194,"y":0.31},{"x":0.19,"y":0.289},{"x":0.269,"y":0.3},{"x":0.31,"y":0.295},{"x":0.221,"y":0.283},{"x":0.207,"y":0.27},{"x":0.197,"y":0.27},{"x":0.182,"y":0.268},{"x":0.212,"y":0.26},{"x":0.239,"y":0.281},{"x":0.249,"y":0.275},{"x":0.287,"y":0.271},{"x":0.303,"y":0.279},{"x":0.34,"y":0.285},{"x":0.38,"y":0.289},{"x":0.188,"y":0.244},{"x":0.2,"y":0.244},{"x":0.217,"y":0.248},{"x":0.182,"y":0.228},{"x":0.212,"y":0.22},{"x":0.274,"y":0.231},{"x":0.241,"y":0.223},{"x":0.252,"y":0.211},{"x":0.269,"y":0.205},{"x":0.287,"y":0.223},{"x":0.333,"y":0.236},{"x":0.34,"y":0.22},{"x":0.32,"y":0.211},{"x":0.365,"y":0.213},{"x":0.397,"y":0.22},{"x":0.152,"y":0.189},{"x":0.145,"y":0.169},{"x":0.142,"y":0.157},{"x":0.142,"y":0.153},{"x":0.377,"y":0.184},{"x":0.2,"y":0.184},{"x":0.221,"y":0.168},{"x":0.236,"y":0.172},{"x":0.249,"y":0.166},{"x":0.228,"y":0.152},{"x":0.238,"y":0.144},{"x":0.206,"y":0.144},{"x":0.274,"y":0.163},{"x":0.287,"y":0.166},{"x":0.274,"y":0.185},{"x":0.3,"y":0.198},{"x":0.634,"y":1.06},{"x":0.634,"y":0.98},{"x":0.61,"y":0.9},{"x":0.727,"y":0.98},{"x":0.796,"y":0.926},{"x":0.828,"y":0.972},{"x":0.761,"y":0.87},{"x":0.936,"y":1.07},{"x":1,"y":1.31},{"x":1.13,"y":1},{"x":1.05,"y":0.953},{"x":1.03,"y":0.846},{"x":1.23,"y":0.913},{"x":0.883,"y":0.805},{"x":0.962,"y":0.8},{"x":0.655,"y":0.772},{"x":0.668,"y":0.756},{"x":0.634,"y":0.72},{"x":0.583,"y":0.715},{"x":1.07,"y":0.72},{"x":1.22,"y":0.736},{"x":0.796,"y":0.672},{"x":0.737,"y":0.696},{"x":0.713,"y":0.649},{"x":0.69,"y":0.672},{"x":0.668,"y":0.644},{"x":0.449,"y":0.672},{"x":0.443,"y":0.627},{"x":0.461,"y":0.622},{"x":0.525,"y":0.6},{"x":0.483,"y":0.564},{"x":0.587,"y":0.584},{"x":0.618,"y":0.592},{"x":0.713,"y":0.584},{"x":1.07,"y":0.618},{"x":1.13,"y":0.644},{"x":1.18,"y":0.605},{"x":1.22,"y":0.605},{"x":1.39,"y":0.636},{"x":0.925,"y":0.526},{"x":0.936,"y":0.505},{"x":0.956,"y":0.464},{"x":0.88,"y":0.498},{"x":0.77,"y":0.464},{"x":0.668,"y":0.534},{"x":0.561,"y":0.515},{"x":0.626,"y":0.498},{"x":0.452,"y":0.491},{"x":0.483,"y":0.454},{"x":0.746,"y":0.433},{"x":0.796,"y":0.423},{"x":0.614,"y":0.423},{"x":0.561,"y":0.369},{"x":0.587,"y":0.351},{"x":0.525,"y":0.351},{"x":0.5,"y":0.385},{"x":0.432,"y":0.385},{"x":0.483,"y":0.327},{"x":0.491,"y":0.279},{"x":0.532,"y":0.281},{"x":0.595,"y":0.271},{"x":0.626,"y":0.281},{"x":0.561,"y":0.243},{"x":0.449,"y":0.24},{"x":0.85,"y":0.344},{"x":1,"y":0.36},{"x":1.22,"y":0.354},{"x":1.29,"y":0.451},{"x":1.49,"y":0.448},{"x":1.02,"y":0.404},{"x":0.746,"y":0.243},{"x":0.828,"y":0.243},{"x":0.377,"y":0.248},{"x":3.04,"y":0.858},{"x":2.6,"y":0.695},{"x":1.98,"y":1.38},{"x":2.05,"y":1.24},{"x":1.94,"y":1.18},{"x":1.69,"y":1.09},{"x":1.67,"y":1.28},{"x":1.54,"y":1.13},{"x":0.43,"y":0.36},{"x":0.45,"y":0.33},{"x":0.47,"y":0.36},{"x":0.48,"y":0.41},{"x":0.45,"y":0.43},{"x":0.43,"y":0.45},{"x":0.42,"y":0.41},{"x":0.46,"y":0.47},{"x":0.5,"y":0.43},{"x":0.53,"y":0.46},{"x":0.55,"y":0.43},{"x":0.58,"y":0.47},{"x":0.52,"y":0.39},{"x":0.55,"y":0.39},{"x":0.6,"y":0.39},{"x":0.64,"y":0.36},{"x":0.67,"y":0.4},{"x":0.41,"y":0.31},{"x":0.44,"y":0.3},{"x":0.48,"y":0.3},{"x":0.37,"y":0.32},{"x":0.36,"y":0.27},{"x":0.34,"y":0.26},{"x":0.37,"y":0.23},{"x":0.31,"y":0.26},{"x":0.28,"y":0.25},{"x":0.26,"y":0.25},{"x":0.24,"y":0.24},{"x":0.29,"y":0.195},{"x":0.31,"y":0.18},{"x":0.33,"y":0.19},{"x":0.58,"y":0.3},{"x":0.52,"y":0.33},{"x":0.4,"y":0.46},{"x":0.39,"y":0.43},{"x":0.4,"y":0.56},{"x":0.42,"y":0.53}],
"tunnels":[{"x":1.264,"y":1.4},{"x":2.31,"y":2.12},{"x":2.45,"y":1.5},{"x":3.58,"y":2.51},{"x":3.82,"y":2.14},{"x":4.21,"y":1.54},{"x":7.91,"y":2.46},{"x":7.51,"y":1.62},{"x":11.5,"y":2.38},{"x":21.4,"y":4.71},{"x":23.8,"y":7.05},{"x":2.76,"y":0.858},{"x":3.44,"y":0.828},{"x":3.7,"y":0.706},{"x":4.86,"y":0.882},{"x":5.9,"y":0.817},{"x":7.27,"y":1.0},{"x":7.76,"y":0.894},{"x":2.28,"y":0.658},{"x":2.13,"y":0.541},{"x":2.04,"y":0.477},{"x":1.66,"y":0.404},{"x":1.93,"y":0.39},{"x":1.97,"y":0.366},{"x":1.33,"y":0.312}],
"diesel":[{"x":0.1,"y":0.1},{"x":0.15,"y":0.105},{"x":0.2,"y":0.11},{"x":0.3,"y":0.12},{"x":0.4,"y":0.13},{"x":0.6,"y":0.15},{"x":0.8,"y":0.17},{"x":1,"y":0.19},{"x":1.5,"y":0.24},{"x":2,"y":0.29},{"x":3,"y":0.39},{"x":5,"y":0.59},{"x":8,"y":0.89},{"x":12,"y":1.29},{"x":18.6,"y":1.95}],
"gasoline":[{"x":0.1,"y":0.103},{"x":0.15,"y":0.11},{"x":0.2,"y":0.118},{"x":0.3,"y":0.133},{"x":0.4,"y":0.148},{"x":0.6,"y":0.178},{"x":0.8,"y":0.208},{"x":1,"y":0.238},{"x":1.5,"y":0.313},{"x":2,"y":0.388},{"x":3,"y":0.538},{"x":5,"y":0.838},{"x":8,"y":1.29},{"x":12,"y":1.89},{"x":18.8,"y":2.91}],
"plume":[{"x":0.178,"y":0.221},{"x":0.25,"y":0.24},{"x":0.35,"y":0.265},{"x":0.5,"y":0.3},{"x":0.7,"y":0.355},{"x":1,"y":0.43},{"x":1.5,"y":0.56},{"x":2,"y":0.67},{"x":3,"y":0.92},{"x":4.07,"y":1.173}],
"fit":[{"x":1.26,"y":0.515},{"x":2,"y":0.7},{"x":2.93,"y":0.94},{"x":4.07,"y":1.2},{"x":6.22,"y":1.7},{"x":10,"y":2.65},{"x":13.6,"y":3.5},{"x":20.5,"y":5.08},{"x":23.6,"y":5.84}],
"keybox":[{"x":0.0564,"x2":3.02,"y":9.86,"y2":3.415}],
"boxes":[{"x":11.1,"x2":20.45,"y":7.15,"y2":5.05},{"x":0.106,"x2":0.1738,"y":0.299,"y2":0.2095}],
"dashboxes":[{"x":19.17,"x2":31.6,"y":3.82,"y2":2.79},{"x":18.3,"x2":30.2,"y":2.48,"y2":1.784}],
"keytext":[{"x":0.0943,"y":8.45,"t":"Tunnels in Shanghai"},{"x":0.0943,"y":6.55,"t":"Gasoline car emission"},{"x":0.0943,"y":5.08,"t":"Diesel truck emission"},{"x":0.0943,"y":3.95,"t":"Observation in plume from New York"}],
"keygas":[{"x":0.0594,"y":6.58},{"x":0.0855,"y":6.58}],"keydie":[{"x":0.0594,"y":5.12},{"x":0.0855,"y":5.12}],"keyobs":[{"x":0.0594,"y":3.98},{"x":0.0855,"y":3.98}],"keytun":[{"x":0.0718,"y":8.52}],
"t246":[{"x":15.07,"y":5.95,"t":"0.246"}],"t15":[{"x":24.7,"y":3.2,"t":"0.15"}],"t10":[{"x":23.4,"y":2.09,"t":"0.10"}],"t25":[{"x":0.1358,"y":0.249,"t":"0.25"}]
},
"encoding":{"x":{"field":"x","type":"quantitative","scale":{"type":"log","domain":[0.04702,32.25],"nice":false},"axis":null},"y":{"field":"y","type":"quantitative","scale":{"type":"log","domain":[0.02809,10.65],"nice":false},"axis":null}},
"layer":[
{"data":{"name":"frame"},"mark":{"type":"point","opacity":0},"encoding":{"x":{"field":"x","type":"quantitative","scale":{"type":"log","domain":[0.04702,32.25],"nice":false},"axis":{"orient":"bottom","title":null,"tickSize":10,"labelFontSize":22,"labelPadding":4,"values":[0.05,0.06,0.07,0.08,0.09,0.2,0.3,0.4,0.5,0.6,0.7,0.8,0.9,2,3,4,5,6,7,8,9,20,30],"labelExpr":"toNumber(slice(format(datum.value,'.0e'),0,1))>8?'':slice(format(datum.value,'.0e'),0,1)"}}}},
{"data":{"name":"frame"},"mark":{"type":"point","opacity":0},"encoding":{"x":{"field":"x","type":"quantitative","scale":{"type":"log","domain":[0.04702,32.25],"nice":false},"axis":{"orient":"bottom","title":"CO (ppmv)","titleFontSize":33,"titlePadding":9,"tickSize":18,"labelFontSize":30,"labelPadding":20,"values":[0.1,1,10],"format":"~g"}}}},
{"data":{"name":"frame"},"mark":{"type":"point","opacity":0},"encoding":{"x":{"field":"x","type":"quantitative","scale":{"type":"log","domain":[0.04702,32.25],"nice":false},"axis":{"orient":"top","title":null,"tickSize":9,"labels":false,"values":[0.05,0.06,0.07,0.08,0.09,0.2,0.3,0.4,0.5,0.6,0.7,0.8,0.9,2,3,4,5,6,7,8,9,20,30]}}}},
{"data":{"name":"frame"},"mark":{"type":"point","opacity":0},"encoding":{"x":{"field":"x","type":"quantitative","scale":{"type":"log","domain":[0.04702,32.25],"nice":false},"axis":{"orient":"top","title":null,"tickSize":19,"labels":false,"values":[0.1,1,10]}}}},
{"data":{"name":"frame"},"mark":{"type":"point","opacity":0},"encoding":{"y":{"field":"y","type":"quantitative","scale":{"type":"log","domain":[0.02809,10.65],"nice":false},"axis":{"orient":"left","title":null,"tickSize":10,"labelFontSize":22,"labelPadding":2,"values":[0.03,0.04,0.05,0.06,0.07,0.08,0.09,0.2,0.3,0.4,0.5,0.6,0.7,0.8,0.9,2,3,4,5,6,7,8,9],"labelExpr":"toNumber(slice(format(datum.value,'.0e'),0,1))>6?'':slice(format(datum.value,'.0e'),0,1)"}}}},
{"data":{"name":"frame"},"mark":{"type":"point","opacity":0},"encoding":{"y":{"field":"y","type":"quantitative","scale":{"type":"log","domain":[0.02809,10.65],"nice":false},"axis":{"orient":"left","title":"CH₃CN (ppbv)","titleFontSize":32,"titlePadding":11,"tickSize":19,"labelFontSize":30,"labelPadding":5,"values":[0.1,1,10],"format":"~g"}}}},
{"data":{"name":"frame"},"mark":{"type":"point","opacity":0},"encoding":{"y":{"field":"y","type":"quantitative","scale":{"type":"log","domain":[0.02809,10.65],"nice":false},"axis":{"orient":"right","title":null,"tickSize":9,"labels":false,"values":[0.03,0.04,0.05,0.06,0.07,0.08,0.09,0.1,0.2,0.3,0.4,0.5,0.6,0.7,0.8,0.9,1,2,3,4,5,6,7,8,9,10]}}}},
{"data":{"name":"innsbruck"},"mark":{"type":"point","filled":true,"size":120,"opacity":1},"encoding":{"color":{"datum":"Innsbruck","type":"nominal","scale":{"domain":["Beijing, summer","Beijing, winter","Changdao","Heshan 2010","Heshan 2019","Shanghai","Gucheng","Mexico City","Innsbruck"],"range":["#FF0000","#595959","#0000FF","#00C000","#0585C8","#C8C800","#FFA50F","#0B5F32","#8B0038"]},"legend":{"orient":"none","legendX":671,"legendY":500,"title":null,"fillColor":"white","strokeColor":"black","padding":4,"labelFontSize":33,"labelFont":"Liberation Sans","labelColor":"black","labelLimit":400,"symbolSize":400,"symbolType":"circle","symbolStrokeWidth":0,"symbolOpacity":1,"symbolOffset":16,"labelOffset":25,"rowPadding":2.7}}}},
{"data":{"name":"shanghai"},"mark":{"type":"point","filled":true,"size":110,"opacity":1},"encoding":{"color":{"datum":"Shanghai","type":"nominal"}}},
{"data":{"name":"red"},"mark":{"type":"point","filled":true,"size":100,"opacity":1},"encoding":{"color":{"datum":"Beijing, summer","type":"nominal"}}},
{"data":{"name":"blue"},"mark":{"type":"point","filled":true,"size":110,"opacity":1},"encoding":{"color":{"datum":"Changdao","type":"nominal"}}},
{"data":{"name":"grey"},"mark":{"type":"point","filled":true,"size":95,"opacity":1},"encoding":{"color":{"datum":"Beijing, winter","type":"nominal"}}},
{"data":{"name":"green"},"mark":{"type":"point","filled":true,"size":130,"opacity":1},"encoding":{"color":{"datum":"Heshan 2010","type":"nominal"}}},
{"data":{"name":"orange"},"mark":{"type":"point","filled":true,"size":52,"opacity":1},"encoding":{"color":{"datum":"Gucheng","type":"nominal"}}},
{"data":{"name":"heshan19"},"mark":{"type":"point","filled":true,"size":165,"opacity":1},"encoding":{"color":{"datum":"Heshan 2019","type":"nominal"}}},
{"data":{"name":"mexico"},"mark":{"type":"point","filled":true,"size":92,"opacity":1},"encoding":{"color":{"datum":"Mexico City","type":"nominal"}}},
{"data":{"name":"gasoline"},"mark":{"type":"line","color":"#FF0000","strokeWidth":6,"strokeDash":[6,7],"interpolate":"monotone"}},
{"data":{"name":"diesel"},"mark":{"type":"line","color":"black","strokeWidth":6,"strokeDash":[6,7],"interpolate":"monotone"}},
{"data":{"name":"fit"},"mark":{"type":"line","color":"#FF00CC","strokeWidth":5,"interpolate":"monotone"}},
{"data":{"name":"plume"},"mark":{"type":"line","color":"black","strokeWidth":6,"interpolate":"monotone"}},
{"data":{"name":"tunnels"},"mark":{"type":"point","filled":false,"size":180,"color":"#FF00CC","strokeWidth":3.5,"opacity":1}},
{"data":{"name":"keybox"},"mark":{"type":"rect","fill":"white","stroke":"black","strokeWidth":1.5},"encoding":{"x2":{"field":"x2"},"y2":{"field":"y2"}}},
{"data":{"name":"boxes"},"mark":{"type":"rect","fill":"white","stroke":"black","strokeWidth":2.5},"encoding":{"x2":{"field":"x2"},"y2":{"field":"y2"}}},
{"data":{"name":"dashboxes"},"mark":{"type":"rect","fill":"white","stroke":"black","strokeWidth":2.5,"strokeDash":[7,6]},"encoding":{"x2":{"field":"x2"},"y2":{"field":"y2"}}},
{"data":{"name":"keytext"},"mark":{"type":"text","align":"left","baseline":"middle","fontSize":32.6,"color":"black"},"encoding":{"text":{"field":"t"}}},
{"data":{"name":"keytun"},"mark":{"type":"point","filled":false,"size":340,"color":"#FF00CC","strokeWidth":4.5,"opacity":1}},
{"data":{"name":"keygas"},"mark":{"type":"line","color":"#FF0000","strokeWidth":5,"strokeDash":[6,6]}},
{"data":{"name":"keydie"},"mark":{"type":"line","color":"black","strokeWidth":5,"strokeDash":[6,6]}},
{"data":{"name":"keyobs"},"mark":{"type":"line","color":"black","strokeWidth":6}},
{"data":{"name":"t246"},"mark":{"type":"text","align":"center","baseline":"middle","fontSize":31,"color":"#FF00CC"},"encoding":{"text":{"field":"t"}}},
{"data":{"name":"t15"},"mark":{"type":"text","align":"center","baseline":"middle","fontSize":31,"color":"#FF0000"},"encoding":{"text":{"field":"t"}}},
{"data":{"name":"t10"},"mark":{"type":"text","align":"center","baseline":"middle","fontSize":31,"color":"black"},"encoding":{"text":{"field":"t"}}},
{"data":{"name":"t25"},"mark":{"type":"text","align":"center","baseline":"middle","fontSize":31,"color":"black"},"encoding":{"text":{"field":"t"}}}
],
"resolve":{"axis":{"x":"independent","y":"independent"}}}
